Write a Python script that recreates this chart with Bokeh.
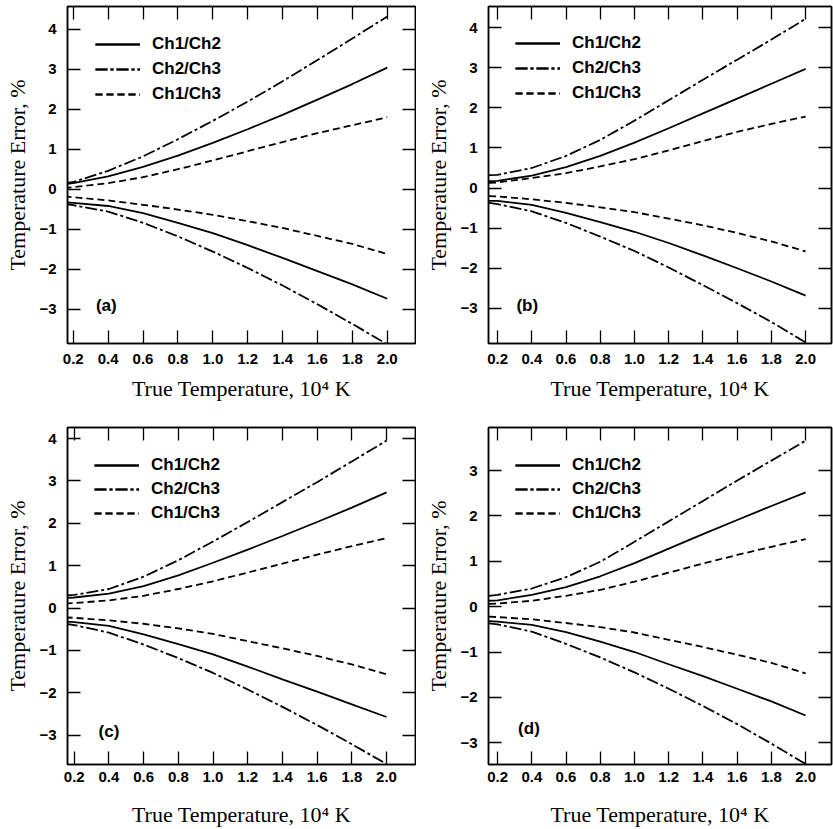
from bokeh.plotting import figure
from bokeh.layouts import gridplot
from bokeh.models import (Range1d, LinearAxis, FixedTicker, CustomJSTickFormatter,
                          Legend, LegendItem, Label)
from bokeh.embed import file_html
from bokeh.resources import INLINE

# ---------------- data ----------------
x = [0.15, 0.2, 0.4, 0.6, 0.8, 1.0, 1.2, 1.4, 1.6, 1.8, 2.0]

# panel (a)
a_ch12_hi = [0.13, 0.15, 0.32, 0.56, 0.84, 1.16, 1.50, 1.86, 2.24, 2.63, 3.04]
a_ch23_hi = [0.15, 0.18, 0.46, 0.82, 1.25, 1.71, 2.19, 2.70, 3.23, 3.77, 4.32]
a_ch13_hi = [0.03, 0.05, 0.15, 0.30, 0.50, 0.72, 0.95, 1.18, 1.40, 1.60, 1.80]
a_ch13_lo = [-0.18, -0.20, -0.28, -0.39, -0.51, -0.64, -0.80, -0.97, -1.17, -1.37, -1.62]
a_ch12_lo = [-0.33, -0.34, -0.42, -0.60, -0.84, -1.10, -1.40, -1.72, -2.05, -2.38, -2.74]
a_ch23_lo = [-0.37, -0.40, -0.56, -0.84, -1.18, -1.56, -1.97, -2.41, -2.88, -3.37, -3.88]

# panel (b)
b_ch12_hi = [0.17, 0.18, 0.31, 0.52, 0.80, 1.13, 1.49, 1.86, 2.23, 2.60, 2.97]
b_ch23_hi = [0.32, 0.33, 0.50, 0.80, 1.20, 1.68, 2.19, 2.70, 3.20, 3.70, 4.22]
b_ch13_hi = [0.13, 0.14, 0.25, 0.37, 0.54, 0.72, 0.94, 1.17, 1.40, 1.60, 1.78]
b_ch13_lo = [-0.20, -0.21, -0.28, -0.37, -0.48, -0.60, -0.76, -0.93, -1.12, -1.33, -1.58]
b_ch12_lo = [-0.32, -0.32, -0.42, -0.62, -0.85, -1.09, -1.37, -1.68, -2.00, -2.33, -2.68]
b_ch23_lo = [-0.37, -0.40, -0.58, -0.87, -1.21, -1.57, -1.98, -2.42, -2.87, -3.34, -3.85]

# panel (c)
c_ch12_hi = [0.24, 0.25, 0.34, 0.52, 0.77, 1.07, 1.38, 1.70, 2.03, 2.37, 2.73]
c_ch23_hi = [0.30, 0.31, 0.45, 0.74, 1.13, 1.57, 2.03, 2.50, 2.97, 3.46, 3.95]
c_ch13_hi = [0.11, 0.12, 0.18, 0.29, 0.45, 0.63, 0.84, 1.05, 1.26, 1.46, 1.65]
c_ch13_lo = [-0.22, -0.23, -0.29, -0.37, -0.48, -0.61, -0.78, -0.95, -1.13, -1.33, -1.56]
c_ch12_lo = [-0.32, -0.33, -0.42, -0.62, -0.85, -1.09, -1.38, -1.68, -1.97, -2.27, -2.57]
c_ch23_lo = [-0.37, -0.40, -0.58, -0.86, -1.18, -1.53, -1.92, -2.33, -2.76, -3.21, -3.68]

# panel (d)
d_ch12_hi = [0.13, 0.14, 0.26, 0.43, 0.67, 0.96, 1.28, 1.60, 1.91, 2.22, 2.52]
d_ch23_hi = [0.24, 0.26, 0.40, 0.65, 0.99, 1.43, 1.88, 2.33, 2.78, 3.22, 3.66]
d_ch13_hi = [0.06, 0.07, 0.13, 0.24, 0.37, 0.55, 0.75, 0.95, 1.14, 1.32, 1.49]
d_ch13_lo = [-0.22, -0.23, -0.28, -0.36, -0.45, -0.57, -0.73, -0.89, -1.06, -1.24, -1.47]
d_ch12_lo = [-0.32, -0.33, -0.40, -0.56, -0.77, -1.00, -1.27, -1.53, -1.81, -2.09, -2.40]
d_ch23_lo = [-0.37, -0.39, -0.55, -0.82, -1.12, -1.45, -1.81, -2.19, -2.59, -3.02, -3.47]

series_labels = ["Ch1/Ch2", "Ch2/Ch3", "Ch1/Ch3"]
panel_tags = ["(a)", "(b)", "(c)", "(d)"]
x_ticks = [0.2, 0.4, 0.6, 0.8, 1.0, 1.2, 1.4, 1.6, 1.8, 2.0]
y_ticks_abc = [-3, -2, -1, 0, 1, 2, 3, 4]
y_ticks_d = [-3, -2, -1, 0, 1, 2, 3]
x_title = "True Temperature, 10\u2074 K"
y_title = "Temperature Error, %"

# ---------------- styling ----------------
SANS = "Liberation Sans"
SERIF = "Liberation Serif"
DASHES = ["solid", "12 3 3 3", "7 4"]

xfmt_code = "return tick.toFixed(1);"
yfmt_code = "return tick < 0 ? '\\u2212' + Math.abs(tick) : String(tick);"


def panel(xr, yr, w, h, bl, br, bt, bb, hi, lo, tag, tag_xy, yticks,
          leg_loc, leg_spacing, tick_sd, label_sd):
    p = figure(width=w, height=h, x_range=Range1d(*xr), y_range=Range1d(*yr),
               output_backend="svg", toolbar_location=None,
               x_axis_label=x_title, y_axis_label=y_title)
    p.min_border_left = bl
    p.min_border_right = br
    p.min_border_top = bt
    p.min_border_bottom = bb
    p.xgrid.visible = False
    p.ygrid.visible = False
    p.outline_line_color = "black"
    p.outline_line_width = 1.5
    p.background_fill_color = "white"
    p.border_fill_color = "white"

    xa = p.xaxis[0]
    xa.ticker = FixedTicker(ticks=x_ticks)
    xa.formatter = CustomJSTickFormatter(code=xfmt_code)
    ya = p.yaxis[0]
    ya.ticker = FixedTicker(ticks=yticks)
    ya.formatter = CustomJSTickFormatter(code=yfmt_code)
    for ax in (xa, ya):
        ax.major_tick_in = 13
        ax.major_tick_out = 0
        ax.minor_tick_in = 0
        ax.minor_tick_out = 0
        ax.major_tick_line_width = 1.3
        ax.axis_line_width = 1.5
        ax.major_label_text_font = SANS
        ax.major_label_text_font_size = "15px"
        ax.major_label_text_font_style = "bold"
        ax.major_label_text_color = "black"
        ax.axis_label_text_font = SERIF
        ax.axis_label_text_font_size = "22px"
        ax.axis_label_text_font_style = "normal"
        ax.axis_label_text_color = "black"
    xa.major_label_standoff = tick_sd
    xa.axis_label_standoff = label_sd
    ya.major_label_standoff = 11
    ya.axis_label_standoff = 6

    top = LinearAxis(ticker=FixedTicker(ticks=x_ticks),
                     formatter=CustomJSTickFormatter(code="return '';"))
    right = LinearAxis(ticker=FixedTicker(ticks=yticks),
                       formatter=CustomJSTickFormatter(code="return '';"))
    for ax in (top, right):
        ax.major_tick_in = 13
        ax.major_tick_out = 0
        ax.minor_tick_in = 0
        ax.minor_tick_out = 0
        ax.major_tick_line_width = 1.3
        ax.axis_line_width = 1.5
        ax.major_label_standoff = 0
        ax.major_label_text_font_size = "1px"
    p.add_layout(top, "above")
    p.add_layout(right, "right")

    items = []
    for i, lab in enumerate(series_labels):
        r1 = p.line(x, hi[i], line_color="black", line_width=1.8, line_dash=DASHES[i])
        r2 = p.line(x, lo[i], line_color="black", line_width=1.8, line_dash=DASHES[i])
        items.append(LegendItem(label=lab, renderers=[r1, r2]))

    leg = Legend(items=items, location=leg_loc, orientation="vertical",
                 glyph_width=45, glyph_height=20, label_height=20,
                 label_standoff=12, spacing=leg_spacing, padding=0, margin=0,
                 label_text_font=SANS, label_text_font_size="17px",
                 label_text_font_style="bold",
                 label_text_color="black",
                 border_line_alpha=0, background_fill_alpha=0)
    p.add_layout(leg)

    p.add_layout(Label(x=tag_xy[0], y=tag_xy[1], text=tag, text_font=SANS,
                       text_font_size="17px", text_font_style="bold",
                       text_baseline="middle", text_color="black"))
    return p


pa = panel((0.167, 2.162), (-3.86, 4.57), 416, 403, 67, 1, 6, 60,
           [a_ch12_hi, a_ch23_hi, a_ch13_hi], [a_ch12_lo, a_ch23_lo, a_ch13_lo],
           panel_tags[0], (0.33, -2.9), y_ticks_abc, (28, 239), 5, 10, 9)
pb = panel((0.147, 2.151), (-3.875, 4.525), 417, 403, 72, 2, 6, 60,
           [b_ch12_hi, b_ch23_hi, b_ch13_hi], [b_ch12_lo, b_ch23_lo, b_ch13_lo],
           panel_tags[1], (0.31, -2.92), y_ticks_abc, (27, 240), 5, 10, 9)
pc = panel((0.161, 2.167), (-3.69, 4.26), 416, 426, 66, 1, 24, 65,
           [c_ch12_hi, c_ch23_hi, c_ch13_hi], [c_ch12_lo, c_ch23_lo, c_ch13_lo],
           panel_tags[2], (0.34, -2.9), y_ticks_abc, (27, 241), 4, 7, 17)
pd = panel((0.147, 2.151), (-3.48, 3.95), 417, 426, 72, 2, 24, 65,
           [d_ch12_hi, d_ch23_hi, d_ch13_hi], [d_ch12_lo, d_ch23_lo, d_ch13_lo],
           panel_tags[3], (0.32, -2.69), y_ticks_d, (27, 241), 4, 7, 17)

grid = gridplot([[pa, pb], [pc, pd]], toolbar_location=None)

open("out.html", "w").write(file_html(grid, INLINE))
